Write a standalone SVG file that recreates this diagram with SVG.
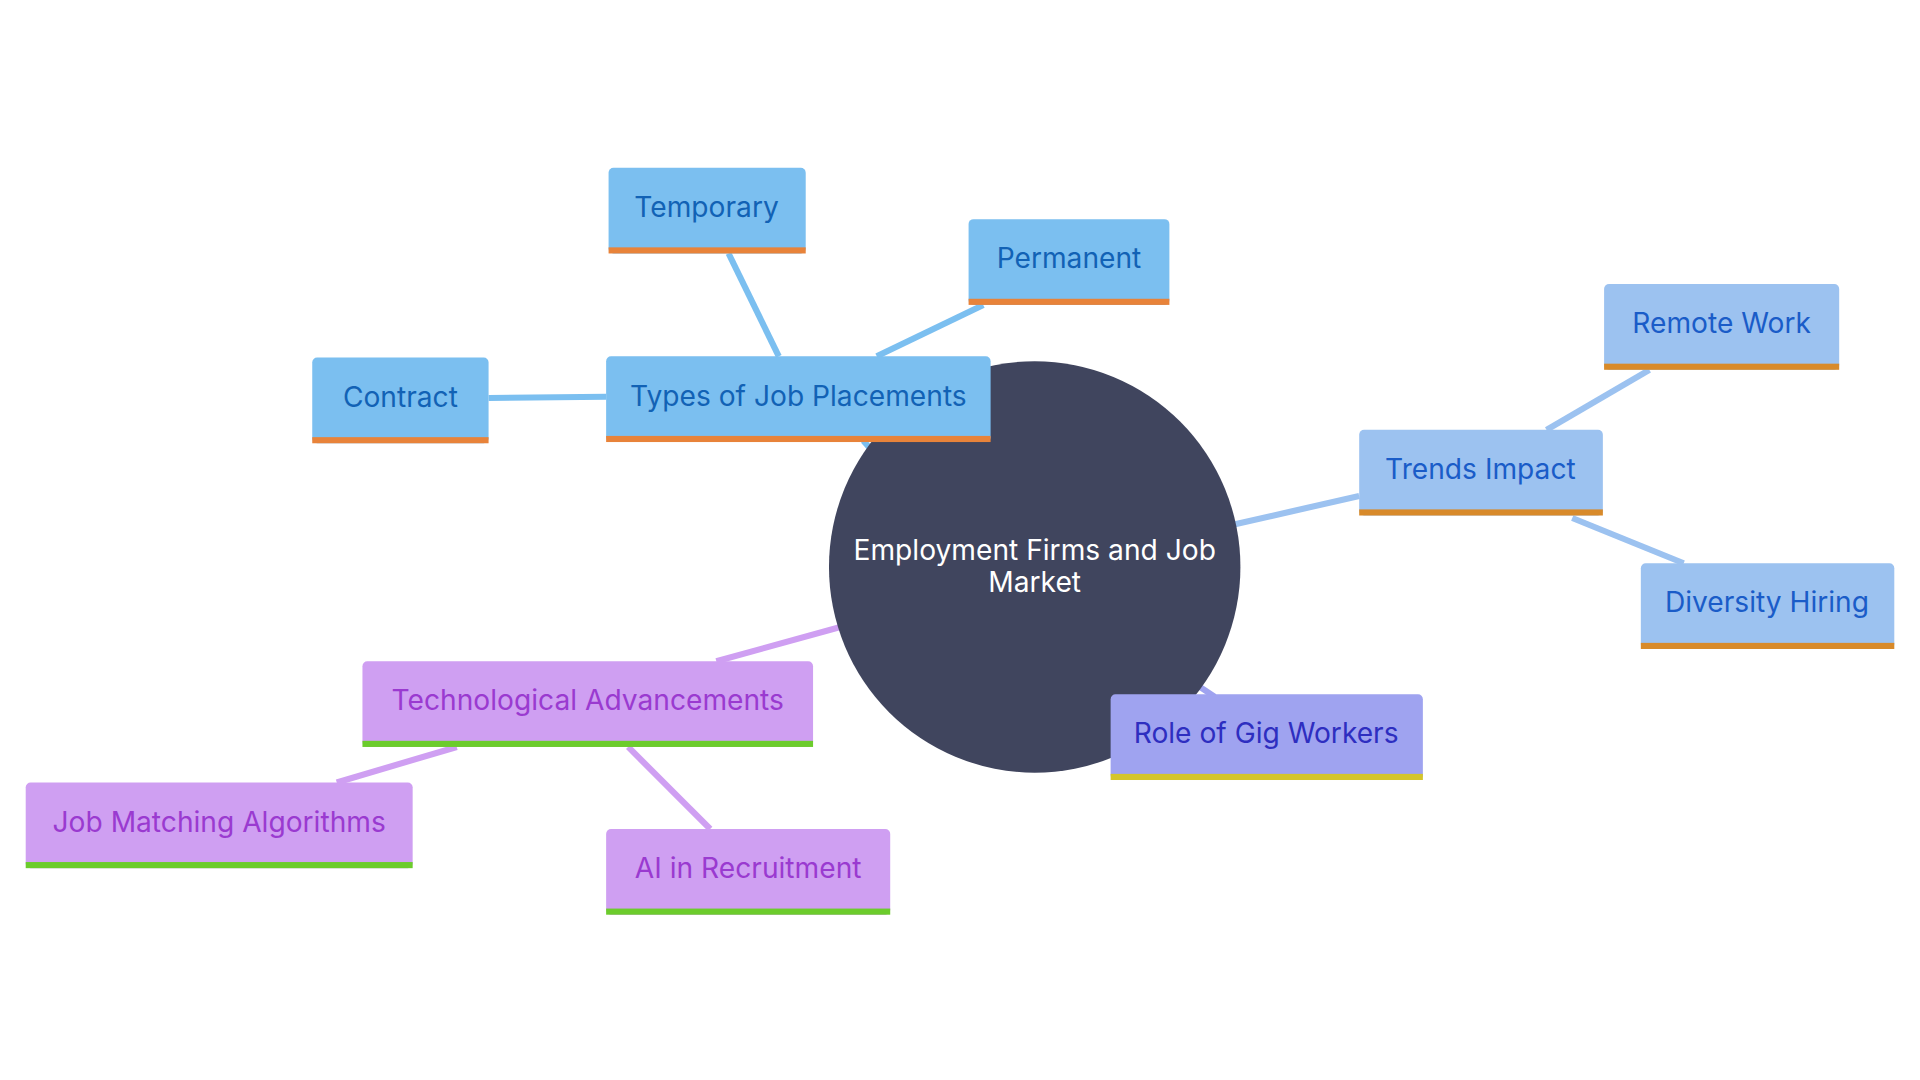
<svg xmlns="http://www.w3.org/2000/svg" width="1920" height="1080" viewBox="0 0 1920 1080">
<style>
text{font-family:Inter,"Open Sans",sans-serif;font-size:23px;text-anchor:middle;dominant-baseline:central}
.b rect.f{fill:#7bbff0}.b text{fill:#1262b5}.b rect.s{fill:#e8833a}
.t rect.f{fill:#9cc2f0}.t text{fill:#1a5cc8}.t rect.s{fill:#d88a2a}
.p rect.f{fill:#cf9ff2}.p text{fill:#9a3ad0}.p rect.s{fill:#6ccc2c}
.g rect.f{fill:#9fa3f0}.g text{fill:#2e2ec0}.g rect.s{fill:#d4c52a}
#edges line{stroke-width:5;fill:none}
</style>
<rect width="1920" height="1080" fill="#fff"/>
<g transform="scale(1.2245)">
<g id="edges">
<line x1="705" y1="360" x2="714" y2="370" stroke="#7bbff0"/>
<line x1="595" y1="207" x2="636" y2="291" stroke="#7bbff0"/>
<line x1="803" y1="249" x2="716" y2="291" stroke="#7bbff0"/>
<line x1="399" y1="325" x2="495" y2="324" stroke="#7bbff0"/>
<line x1="1005" y1="429" x2="1110" y2="405" stroke="#9cc2f0"/>
<line x1="1263" y1="351" x2="1347" y2="302" stroke="#9cc2f0"/>
<line x1="1284" y1="423" x2="1375" y2="460" stroke="#9cc2f0"/>
<line x1="980" y1="561" x2="992" y2="569" stroke="#9fa3f0"/>
<line x1="690" y1="511" x2="585" y2="540" stroke="#cf9ff2"/>
<line x1="373" y1="610" x2="275" y2="639" stroke="#cf9ff2"/>
<line x1="513" y1="610" x2="580" y2="677" stroke="#cf9ff2"/>
</g>
<g id="center"><circle cx="845" cy="463" r="168" fill="#40455e"/>
<text x="845" y="449" fill="#fff">Employment Firms and Job</text><text x="845" y="475" fill="#fff">Market</text></g>
<g id="types" class="b"><rect class="f" x="495" y="291" width="314" height="70" rx="4"/><rect class="s" x="495" y="356" width="314" height="5"/><text x="652" y="323">Types of Job Placements</text></g>
<g id="temporary" class="b"><rect class="f" x="497" y="137" width="161" height="70" rx="4"/><rect class="s" x="497" y="202" width="161" height="5"/><text x="577" y="169">Temporary</text></g>
<g id="permanent" class="b"><rect class="f" x="791" y="179" width="164" height="70" rx="4"/><rect class="s" x="791" y="244" width="164" height="5"/><text x="873" y="211">Permanent</text></g>
<g id="contract" class="b"><rect class="f" x="255" y="292" width="144" height="70" rx="4"/><rect class="s" x="255" y="357" width="144" height="5"/><text x="327" y="324">Contract</text></g>
<g id="trends" class="t"><rect class="f" x="1110" y="351" width="199" height="70" rx="4"/><rect class="s" x="1110" y="416" width="199" height="5"/><text x="1209" y="383">Trends Impact</text></g>
<g id="remote" class="t"><rect class="f" x="1310" y="232" width="192" height="70" rx="4"/><rect class="s" x="1310" y="297" width="192" height="5"/><text x="1406" y="264">Remote Work</text></g>
<g id="diversity" class="t"><rect class="f" x="1340" y="460" width="207" height="70" rx="4"/><rect class="s" x="1340" y="525" width="207" height="5"/><text x="1443" y="492">Diversity Hiring</text></g>
<g id="gig" class="g"><rect class="f" x="907" y="567" width="255" height="70" rx="4"/><rect class="s" x="907" y="632" width="255" height="5"/><text x="1034" y="599">Role of Gig Workers</text></g>
<g id="tech" class="p"><rect class="f" x="296" y="540" width="368" height="70" rx="4"/><rect class="s" x="296" y="605" width="368" height="5"/><text x="480" y="572">Technological Advancements</text></g>
<g id="jobmatch" class="p"><rect class="f" x="21" y="639" width="316" height="70" rx="4"/><rect class="s" x="21" y="704" width="316" height="5"/><text x="179" y="671">Job Matching Algorithms</text></g>
<g id="ai" class="p"><rect class="f" x="495" y="677" width="232" height="70" rx="4"/><rect class="s" x="495" y="742" width="232" height="5"/><text x="611" y="709">AI in Recruitment</text></g>
</g>
</svg>
